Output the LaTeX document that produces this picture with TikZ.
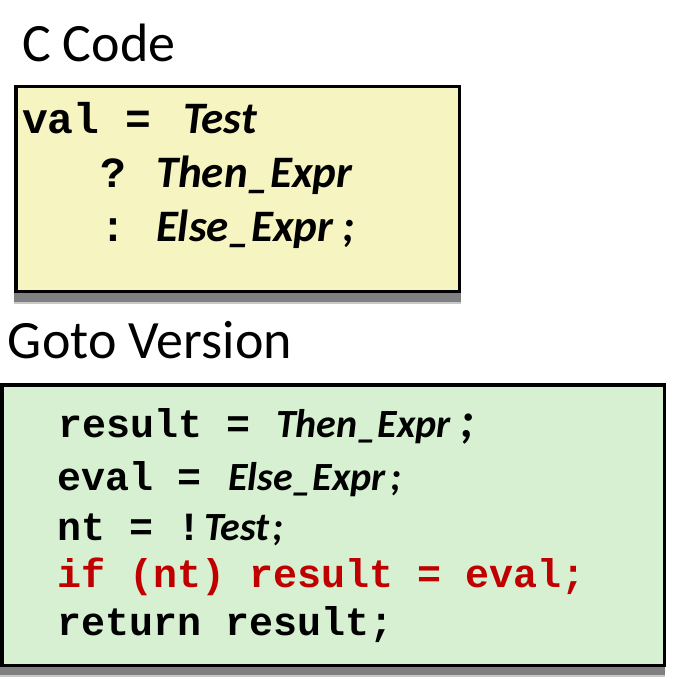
\documentclass[tikz,border=0pt]{standalone}
\usepackage{fontspec}
\setmainfont{Carlito}
\setmonofont{Liberation Mono}
\newfontfamily\calib{Carlito}
\definecolor{yfill}{HTML}{F6F4C0}
\definecolor{gfill}{HTML}{D7F0D1}
\definecolor{shad}{HTML}{808080}
\definecolor{shadlight}{HTML}{C8C8C8}
\definecolor{codered}{HTML}{C00000}
\tikzset{
  txt/.style={anchor=base west, inner sep=0pt, outer sep=0pt},
  heading/.style={txt, font=\calib\fontsize{54}{60}\selectfont},
  ycode/.style={txt, font=\ttfamily\bfseries\fontsize{43}{50}\selectfont},
  yital/.style={txt, font=\calib\bfseries\itshape\fontsize{45}{50}\selectfont},
  gcode/.style={txt, font=\ttfamily\bfseries\fontsize{40}{46}\selectfont},
  gital/.style={txt, font=\calib\bfseries\itshape\fontsize{40}{46}\selectfont},
  boxline/.style={draw=black, line width=3.5pt},
}
\begin{document}
\begin{tikzpicture}[x=1pt,y=-1pt]
\useasboundingbox (0,0) rectangle (680,698);
% shadows
\fill[shadlight] (14,300) rectangle (461,304);
\fill[shad] (14,293) rectangle (461,302);
\fill[shadlight] (0,673) rectangle (665,677);
\fill[shad] (0,667) rectangle (665,675);
% boxes
\draw[boxline, fill=yfill] (15.75,86.75) rectangle (459.25,291.25);
\draw[boxline, fill=gfill] (1.75,384.75) rectangle (664.25,665.25);
% headings
\node[heading] (hc) at (22,62) {C Code};
\node[heading] (hg) at (8,358) {Goto Version};
% C code
\node[ycode] (y1a) at (22,133) {val =};
\node[yital] (y1b) at (183,133) {Test};
\node[ycode] (y2a) at (100,187) {?};
\node[yital] (y2b) at (156,187) {Then\_Expr};
\node[ycode] (y3a) at (100,241) {:};
\node[yital] (y3b) at (156,241) {Else\_Expr};
\node[yital] (y3c) at (342,241) {;};
% Goto version
\node[gcode] (g1a) at (58,437) {result =};
\node[gital] (g1b) at (276,437) {Then\_Expr};
\node[txt, font=\calib\bfseries\itshape\fontsize{50}{52}\selectfont] (g1c) at (460,437) {;};
\node[gcode] (g2a) at (57,490) {eval =};
\node[gital] (g2b) at (228,490) {Else\_Expr};
\node[gital] (g2c) at (390,490) {;};
\node[gcode] (g3a) at (57,540) {nt = !};
\node[gital] (g3b) at (204,540) {Test};
\node[gital] (g3c) at (272,540) {;};
\node[gcode, text=codered] (g4) at (57,587) {if (nt) result = eval;};
\node[gcode] (g5) at (57,635) {return result;};
\end{tikzpicture}
\end{document}
